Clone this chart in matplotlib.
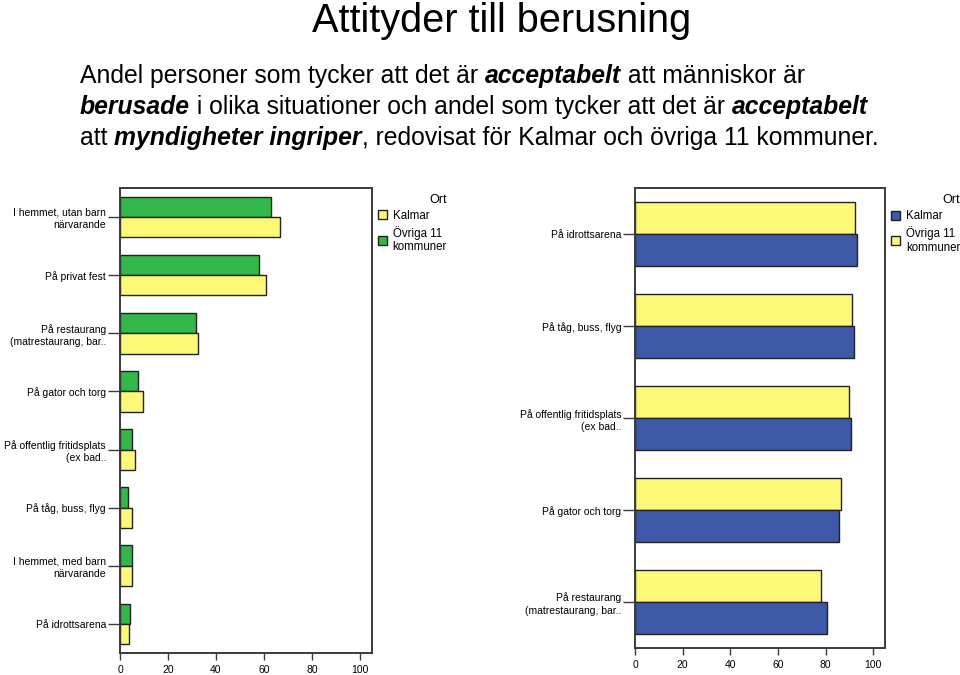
import matplotlib
matplotlib.use("Agg")
import matplotlib.pyplot as plt
import numpy as np
from matplotlib.patches import Patch

plt.rcParams['font.family'] = ['Liberation Sans', 'DejaVu Sans']

# vänster diagram: acceptabelt att människor är berusade
left_labels = ["I hemmet, utan barn\nnärvarande", "På privat fest",
               "På restaurang\n(matrestaurang, bar..", "På gator och torg",
               "På offentlig fritidsplats\n(ex bad..", "På tåg, buss, flyg",
               "I hemmet, med barn\nnärvarande", "På idrottsarena"]
left_kalmar = [66.6, 60.9, 32.3, 9.5, 6.1, 5.2, 4.8, 3.9]
left_ovriga = [62.8, 57.9, 31.6, 7.7, 4.9, 3.5, 4.9, 4.3]

# höger diagram: acceptabelt att myndigheter ingriper
right_labels = ["På idrottsarena", "På tåg, buss, flyg",
                "På offentlig fritidsplats\n(ex bad..", "På gator och torg",
                "På restaurang\n(matrestaurang, bar.."]
right_kalmar = [93.4, 91.8, 90.5, 85.7, 80.6]
right_ovriga = [92.4, 91.2, 89.9, 86.4, 78.3]

series_names = ["Kalmar", "Övriga 11\nkommuner"]
xticks = [0, 20, 40, 60, 80, 100]

GREEN = "#34b84b"
YELLOW = "#fdf877"
BLUE = "#3e58a8"
EDGE = "#222222"
SPINE = "#3a3a3a"

fig = plt.figure(figsize=(9.6, 6.75), dpi=100)


def draw(ax, labels, kalmar, ovriga, c_kalmar, c_ovriga):
    h = 0.35
    y = np.arange(len(labels))
    ax.barh(y - h / 2, ovriga, height=h, color=c_ovriga, edgecolor=EDGE, linewidth=1)
    ax.barh(y + h / 2, kalmar, height=h, color=c_kalmar, edgecolor=EDGE, linewidth=1)
    ax.set_ylim(len(labels) - 0.5, -0.5)
    ax.set_xlim(0, 105)
    ax.set_yticks(y)
    ax.set_yticklabels(labels, fontsize=7.5, linespacing=1.3)
    ax.set_xticks(xticks)
    ax.set_xticklabels([str(t) for t in xticks], fontsize=7.5)
    ax.tick_params(axis='y', length=9, width=1, color=SPINE, pad=1)
    ax.tick_params(axis='x', length=5, width=1, color=SPINE, pad=4)
    for s in ax.spines.values():
        s.set_color(SPINE)
        s.set_linewidth(1.4)
    handles = [Patch(facecolor=c_kalmar, edgecolor=EDGE, linewidth=1),
               Patch(facecolor=c_ovriga, edgecolor=EDGE, linewidth=1)]
    leg = ax.legend(handles, series_names, title="Ort", loc="upper left",
                    bbox_to_anchor=(1.0, 1.0), frameon=False, fontsize=8.3,
                    title_fontsize=9, handlelength=0.8, handleheight=0.8,
                    handletextpad=0.5, labelspacing=0.35, alignment="right",
                    borderaxespad=0.1)
    for t in leg.get_texts():
        t.set_linespacing(1.2)


ax1 = fig.add_axes([0.125, 0.0326, 0.2625, 0.689])
draw(ax1, left_labels, left_kalmar, left_ovriga, YELLOW, GREEN)

ax2 = fig.add_axes([0.6615, 0.040, 0.2604, 0.681])
draw(ax2, right_labels, right_kalmar, right_ovriga, BLUE, YELLOW)

# rubrik och text
fig.text(502 / 960, 1 - 32 / 675, "Attityder till berusning", fontsize=28.6,
         ha="center", va="baseline")

lines = [
    [("Andel personer som tycker att det är ", False), ("acceptabelt", True),
     (" att människor är", False)],
    [("berusade", True), (" i olika situationer och andel som tycker att det är ", False),
     ("acceptabelt", True)],
    [("att ", False), ("myndigheter ingriper", True),
     (", redovisat för Kalmar och övriga 11 kommuner.", False)],
]

fig.canvas.draw()
r = fig.canvas.get_renderer()
x0 = 80 / 960
baselines = [83, 114, 145]
for line, ypx in zip(lines, baselines):
    x = x0
    for txt, bold in line:
        t = fig.text(x, 1 - ypx / 675, txt, fontsize=17.8,
                     ha="left", va="baseline",
                     fontweight="bold" if bold else "normal",
                     fontstyle="italic" if bold else "normal")
        bb = t.get_window_extent(renderer=r)
        x += bb.width / 960

fig.savefig("out.png", dpi=100)
